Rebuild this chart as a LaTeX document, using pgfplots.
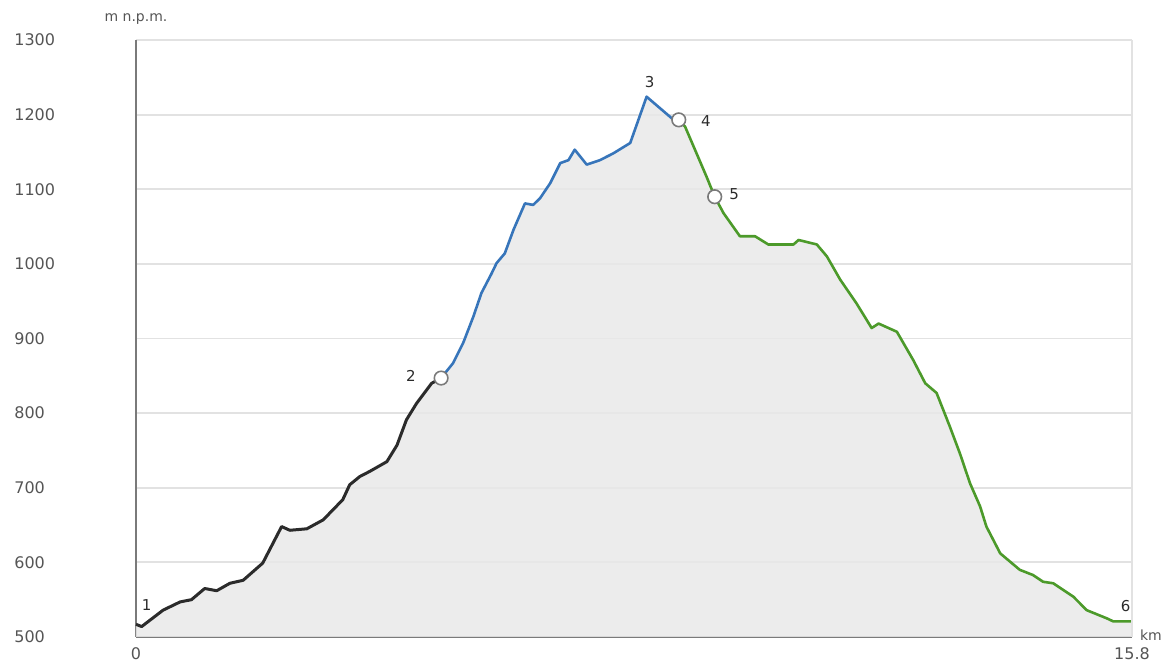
\documentclass[border=0pt]{standalone}
\usepackage{fontspec}
\setmainfont{DejaVu Sans}
\usepackage{pgfplots}
\pgfplotsset{compat=1.18}
\definecolor{blk}{HTML}{2B2B2B}
\definecolor{blu}{HTML}{3775BA}
\definecolor{grn}{HTML}{4C9A2A}
\definecolor{fillg}{HTML}{E9E9E9}
\definecolor{gridc}{HTML}{E2E2E2}
\definecolor{axc}{HTML}{7A7A7A}
\definecolor{txt}{HTML}{555555}
\begin{document}
\begin{tikzpicture}
\useasboundingbox (-68pt,-12.5pt) rectangle (517pt,318.5pt);
\begin{axis}[
  at={(0,0)}, anchor=south west,
  scale only axis, width=498pt, height=298.5pt,
  xmin=0, xmax=15.8, ymin=500, ymax=1300,
  axis lines=left, axis line style={-, axc, line width=1pt},
  ytick={500,600,...,1300},
  xtick={0,15.8},
  xticklabels={0,15.8},
  major tick length=0pt,
  ymajorgrids, grid style={gridc, line width=0.9pt},
  /pgf/number format/assume math mode=true,
  /pgf/number format/1000 sep={},
  tick label style={font=\fontsize{8}{9}\selectfont, text=txt},
  yticklabel style={anchor=west, inner sep=0pt, xshift=-61pt},
  xticklabel style={anchor=north, inner sep=0pt, yshift=-5pt},
  clip=false,
]
\addplot[fill=fillg, draw=none, fill opacity=0.85] coordinates {
(0,517)(0.09,514)(0.43,536)(0.70,547)(0.88,550)(1.09,565)(1.28,562)(1.49,572)(1.70,576)(2.01,599)(2.31,648)(2.44,643)(2.71,645)(2.97,657)(3.28,684)(3.39,704)(3.55,715)(3.71,722)(3.98,735)(4.14,757)(4.29,791)(4.45,813)(4.69,840)(4.84,847)
(5.03,867)(5.19,894)(5.35,929)(5.48,961)(5.64,987)(5.72,1001)(5.85,1014)(5.99,1046)(6.17,1081)(6.30,1079)(6.41,1088)(6.57,1108)(6.73,1135)(6.86,1139)(6.96,1153)(7.15,1133)(7.36,1139)(7.57,1148)(7.84,1162)(8.10,1224)(8.50,1195)(8.61,1193)
(8.71,1184)(9.05,1117)(9.18,1090)(9.32,1068)(9.58,1037)(9.82,1037)(10.03,1026)(10.43,1026)(10.51,1032)(10.80,1026)(10.96,1010)(11.17,979)(11.43,947)(11.67,914)(11.78,920)(12.07,909)(12.33,871)(12.52,840)(12.70,827)(12.91,782)(13.07,746)(13.23,706)(13.39,675)(13.49,648)(13.71,612)(14.02,590)(14.23,583)(14.39,574)(14.55,572)(14.87,554)(15.08,536)(15.40,525)(15.50,521)(15.8,521)
} \closedcycle;
\addplot[blk, line width=1.5pt, line join=round] coordinates {
(0,517)(0.09,514)(0.43,536)(0.70,547)(0.88,550)(1.09,565)(1.28,562)(1.49,572)(1.70,576)(2.01,599)(2.31,648)(2.44,643)(2.71,645)(2.97,657)(3.28,684)(3.39,704)(3.55,715)(3.71,722)(3.98,735)(4.14,757)(4.29,791)(4.45,813)(4.69,840)(4.84,847)
};
\addplot[blu, line width=1.3pt, line join=round] coordinates {
(4.84,847)(5.03,867)(5.19,894)(5.35,929)(5.48,961)(5.64,987)(5.72,1001)(5.85,1014)(5.99,1046)(6.17,1081)(6.30,1079)(6.41,1088)(6.57,1108)(6.73,1135)(6.86,1139)(6.96,1153)(7.15,1133)(7.36,1139)(7.57,1148)(7.84,1162)(8.10,1224)(8.50,1195)(8.61,1193)
};
\addplot[grn, line width=1.3pt, line join=round] coordinates {
(8.61,1193)(8.71,1184)(9.05,1117)(9.18,1090)(9.32,1068)(9.58,1037)(9.82,1037)(10.03,1026)(10.43,1026)(10.51,1032)(10.80,1026)(10.96,1010)(11.17,979)(11.43,947)(11.67,914)(11.78,920)(12.07,909)(12.33,871)(12.52,840)(12.70,827)(12.91,782)(13.07,746)(13.23,706)(13.39,675)(13.49,648)(13.71,612)(14.02,590)(14.23,583)(14.39,574)(14.55,572)(14.87,554)(15.08,536)(15.40,525)(15.50,521)(15.8,521)
};
\addplot[only marks, mark=*, mark size=3.4pt, mark options={fill=white, draw=axc, line width=0.8pt}] coordinates {
(4.84,847)(8.61,1193)(9.18,1090)
};
\draw[gridc, line width=0.9pt] (rel axis cs:1,0) -- (rel axis cs:1,1);
\begin{scope}[every node/.style={font=\fontsize{7.5}{9}\selectfont, text=blk, inner sep=0pt}]
\node at (axis cs:0.17,543) {1};
\node at (axis cs:4.36,850) {2};
\node at (axis cs:8.15,1244) {3};
\node at (axis cs:9.04,1191) {4};
\node at (axis cs:9.49,1093) {5};
\node at (axis cs:15.70,542) {6};
\end{scope}
\node[font=\fontsize{7}{8}\selectfont, text=txt, inner sep=0pt] at (rel axis cs:0,1) [yshift=10.5pt] {m n.p.m.};
\node[font=\fontsize{7}{8}\selectfont, text=txt, inner sep=0pt] at (rel axis cs:1,0) [xshift=9.5pt, yshift=1pt] {km};
\end{axis}
\end{tikzpicture}
\end{document}
